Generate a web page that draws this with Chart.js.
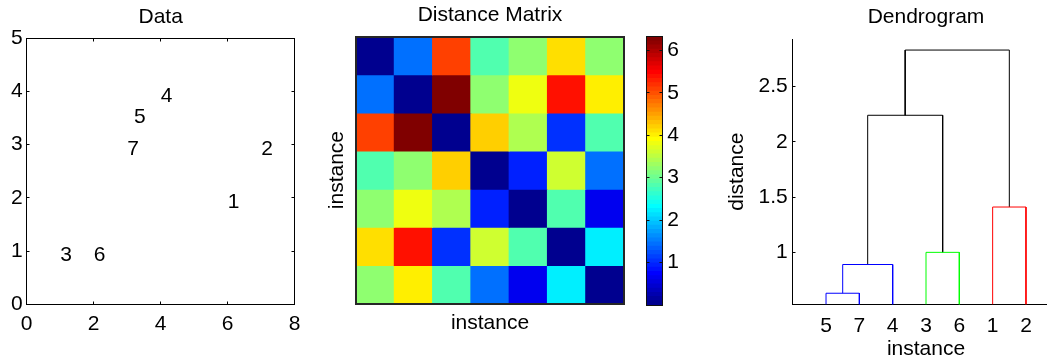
<!DOCTYPE html>
<html>
<head>
<meta charset="utf-8">
<script src="https://cdn.jsdelivr.net/npm/chart.js@4.4.1/dist/chart.umd.min.js"></script>
<style>
  html, body { margin: 0; padding: 0; background: #fff; overflow: hidden; width: 1047px; height: 362px; }
  canvas { position: absolute; top: 0; }
</style>
</head>
<body>
<canvas id="data" width="310" height="362" style="left:0px"></canvas>
<canvas id="matrix" width="330" height="362" style="left:310px"></canvas>
<canvas id="cbar" width="60" height="362" style="left:640px"></canvas>
<canvas id="dendro" width="380" height="362" style="left:700px"></canvas>
<script>
// ---- instances in the plane ----
const instanceIds = ['1', '2', '3', '4', '5', '6', '7'];
const pointX = [6, 7, 1, 4, 3.2, 2, 3];
const pointY = [2, 3, 1, 4, 3.6, 1, 3];

// ---- pairwise Euclidean distances (rows / columns in instance order) ----
const distances = [
  [0.00, 1.41, 5.10, 2.83, 3.22, 4.12, 3.16],
  [1.41, 0.00, 6.32, 3.16, 3.85, 5.39, 4.00],
  [5.10, 6.32, 0.00, 4.24, 3.41, 1.00, 2.83],
  [2.83, 3.16, 4.24, 0.00, 0.89, 3.61, 1.41],
  [3.22, 3.85, 3.41, 0.89, 0.00, 2.86, 0.63],
  [4.12, 5.39, 1.00, 3.61, 2.86, 0.00, 2.24],
  [3.16, 4.00, 2.83, 1.41, 0.63, 2.24, 0.00]
];
const colorbarTicks = [1, 2, 3, 4, 5, 6];

// ---- single-linkage tree: leaves are 1..7, merged clusters are numbered 8..13 ----
const linkPairs = [[5, 7], [8, 4], [3, 6], [1, 2], [9, 10], [11, 12]];
const linkHeights = [0.63, 0.89, 1.00, 1.41, 2.24, 2.83];
const linkColors = ['#0000ff', '#0000ff', '#00ff00', '#ff0000', '#000000', '#000000'];
const leafOrder = [5, 7, 4, 3, 6, 1, 2];
const dendroTicks = [1, 1.5, 2, 2.5];
const dendroRange = [0.53, 2.93];

const FONT = "'Liberation Sans', Arial, Helvetica, sans-serif";
Chart.defaults.font.family = FONT;
Chart.defaults.font.size = 21;
Chart.defaults.color = '#000';

// MATLAB-style 64-entry jet colormap
function jet64(i) {
  const u = k => (k <= 16 ? k / 16 : (k <= 31 ? 1 : (48 - k) / 16));
  const r = i >= 25 ? u(i - 24) : 0;
  const g = (i >= 9 && i <= 55) ? u(i - 8) : 0;
  const b = i <= 39 ? u(i + 8) : 0;
  return `rgb(${Math.round(r * 255)},${Math.round(g * 255)},${Math.round(b * 255)})`;
}
const dMax = Math.max(...distances.flat());
const colorFor = d => jet64(Math.min(64, Math.floor(d / dMax * 64) + 1));

// axes box and inward tick marks
const halfPx = v => Math.round(v - 0.5) + 0.5;
const frame = {
  id: 'frame',
  afterDatasetsDraw(chart, args, o) {
    const { ctx, chartArea: a } = chart;
    ctx.save();
    ctx.strokeStyle = o.color || '#000';
    ctx.lineWidth = o.width || 1;
    const odd = (o.width || 1) % 2 === 1;
    const px = v => (odd ? halfPx(v) : Math.round(v));
    const L = px(a.left), R = px(a.right), T = px(a.top), B = px(a.bottom);
    if (o.box) ctx.strokeRect(L, T, R - L, B - T);
    (o.marks || []).forEach(m => {
      const s = chart.scales[m.scale];
      s.ticks.forEach(t => {
        const p = halfPx(s.getPixelForValue(t.value));
        ctx.beginPath();
        if (s.isHorizontal()) {
          if (m.sides.includes('bottom')) { ctx.moveTo(p, B); ctx.lineTo(p, B - m.len); }
          if (m.sides.includes('top')) { ctx.moveTo(p, T); ctx.lineTo(p, T + m.len); }
        } else {
          if (m.sides.includes('left')) { ctx.moveTo(L, p); ctx.lineTo(L + m.len, p); }
          if (m.sides.includes('right')) { ctx.moveTo(R, p); ctx.lineTo(R - m.len, p); }
        }
        ctx.stroke();
      });
    });
    ctx.restore();
  }
};

// instance numbers written at their coordinates
const pointLabels = {
  id: 'pointLabels',
  afterDatasetsDraw(chart) {
    const { ctx } = chart;
    const meta = chart.getDatasetMeta(0);
    ctx.save();
    ctx.font = `21px ${FONT}`;
    ctx.fillStyle = '#000';
    ctx.textAlign = 'left';
    ctx.textBaseline = 'alphabetic';
    meta.data.forEach((el, i) => ctx.fillText(instanceIds[i], el.x, el.y + 10));
    ctx.restore();
  }
};

const plainGrid = { display: false, drawTicks: false };
const noBorder = { display: false };
const titleOpts = (text, top, bottom) => ({
  display: true, text, fullSize: false, color: '#000',
  font: { size: 21, weight: 'normal' }, padding: { top, bottom }
});
const common = { responsive: false, animation: false, events: [] };

// ---- Data ----
new Chart(document.getElementById('data'), {
  type: 'scatter',
  data: {
    datasets: [{
      data: pointX.map((x, i) => ({ x, y: pointY[i] })),
      pointRadius: 0, pointHoverRadius: 0
    }]
  },
  options: {
    ...common,
    layout: { padding: { left: 0, right: 15.3, top: 0, bottom: 0 } },
    plugins: {
      legend: { display: false }, tooltip: { enabled: false },
      title: titleOpts('Data', 5.1, 8.0),
      frame: {
        color: '#000', width: 1, box: true,
        marks: [{ scale: 'x', sides: ['top', 'bottom'], len: 3 }, { scale: 'y', sides: ['left', 'right'], len: 3 }]
      }
    },
    scales: {
      x: {
        type: 'linear', min: 0, max: 8,
        ticks: { stepSize: 2, padding: 7.1, maxRotation: 0 },
        grid: plainGrid, border: noBorder,
        afterFit: s => { s.height = 57.7; }
      },
      y: {
        type: 'linear', min: 0, max: 5,
        ticks: { stepSize: 1, padding: 4 },
        grid: plainGrid, border: noBorder,
        afterFit: s => { s.width = 26.7; }
      }
    }
  },
  plugins: [frame, pointLabels]
});

// ---- Distance Matrix ----
new Chart(document.getElementById('matrix'), {
  type: 'bar',
  data: {
    labels: instanceIds,
    datasets: distances.map((row, r) => ({
      data: row.map(() => [r, r + 1]),
      backgroundColor: row.map(colorFor),
      borderWidth: 0, barPercentage: 1, categoryPercentage: 1,
      grouped: false, inflateAmount: 0.5
    }))
  },
  options: {
    ...common,
    layout: { padding: { left: 0, right: 16, top: 0, bottom: 0 } },
    plugins: {
      legend: { display: false }, tooltip: { enabled: false },
      title: titleOpts('Distance Matrix', 3.1, 8.4),
      frame: { color: '#262626', width: 2, box: true }
    },
    scales: {
      x: {
        ticks: { display: false }, grid: plainGrid, border: noBorder,
        title: { display: true, text: 'instance', color: '#000', font: { size: 21 }, padding: { top: 0, bottom: 26.4 } },
        afterFit: s => { s.height = 58.5; }
      },
      y: {
        type: 'linear', min: 0, max: 7, reverse: true,
        ticks: { display: false }, grid: plainGrid, border: noBorder,
        title: { display: true, text: 'instance', color: '#000', font: { size: 21 }, padding: { top: 14.2, bottom: 0 } },
        afterFit: s => { s.width = 46; }
      }
    }
  },
  plugins: [frame]
});

// ---- colour scale ----
const bandSize = dMax / 64;
new Chart(document.getElementById('cbar'), {
  type: 'bar',
  data: {
    labels: [''],
    datasets: Array.from({ length: 64 }, (_, i) => ({
      data: [bandSize], backgroundColor: jet64(i + 1),
      borderWidth: 0, barPercentage: 1, categoryPercentage: 1, inflateAmount: 0.5
    }))
  },
  options: {
    ...common,
    layout: { padding: { left: 6, right: 0, top: 36.7, bottom: 57 } },
    plugins: {
      legend: { display: false }, tooltip: { enabled: false },
      frame: { color: '#111', width: 1, box: true, marks: [{ scale: 'y', sides: ['left', 'right'], len: 3 }] }
    },
    scales: {
      x: { stacked: true, display: false },
      y: {
        stacked: true, min: 0, max: dMax, position: 'right',
        afterBuildTicks: s => { s.ticks = colorbarTicks.map(v => ({ value: v })); },
        ticks: { padding: 5, callback: v => String(v) }, grid: plainGrid, border: noBorder,
        afterFit: s => { s.width = 37.7; }
      }
    }
  },
  plugins: [frame]
});

// ---- Dendrogram ----
const clusterPos = c => {
  if (c <= leafOrder.length) return { x: leafOrder.indexOf(c) + 1, h: 0 };
  const k = c - leafOrder.length - 1;
  const [a, b] = linkPairs[k].map(clusterPos);
  return { x: (a.x + b.x) / 2, h: linkHeights[k] };
};
const linkSets = linkPairs.map((pair, k) => {
  const [a, b] = pair.map(clusterPos);
  const h = linkHeights[k];
  return {
    data: [{ x: a.x, y: a.h }, { x: a.x, y: h }, { x: b.x, y: h }, { x: b.x, y: b.h }],
    showLine: true, borderColor: linkColors[k], borderWidth: 1,
    pointRadius: 0, pointHoverRadius: 0, tension: 0
  };
});
new Chart(document.getElementById('dendro'), {
  type: 'scatter',
  data: { datasets: linkSets },
  options: {
    ...common,
    layout: { padding: { left: 0, right: 20.7, top: 0, bottom: 0 } },
    plugins: {
      legend: { display: false }, tooltip: { enabled: false },
      title: titleOpts('Dendrogram', 5.1, 8.7),
      frame: { color: '#000', width: 1, box: false, marks: [{ scale: 'y', sides: ['left'], len: 3 }] }
    },
    scales: {
      x: {
        type: 'linear', min: 0, max: leafOrder.length + 1,
        afterBuildTicks: s => { s.ticks = leafOrder.map((_, i) => ({ value: i + 1 })); },
        ticks: { padding: 9.1, autoSkip: false, maxRotation: 0, callback: (v, i) => String(leafOrder[i]) },
        grid: plainGrid, border: { display: true, color: '#000', width: 1 },
        title: { display: true, text: 'instance', color: '#000', font: { size: 21 }, padding: { top: 0, bottom: 0 } },
        afterFit: s => { s.height = 57.7; }
      },
      y: {
        type: 'linear', min: dendroRange[0], max: dendroRange[1],
        afterBuildTicks: s => { s.ticks = dendroTicks.map(v => ({ value: v })); },
        ticks: { padding: 5, callback: v => String(v) },
        grid: plainGrid, border: { display: true, color: '#000', width: 1 },
        title: { display: true, text: 'distance', color: '#000', font: { size: 21 }, padding: { top: 24.2, bottom: 0 } },
        afterFit: s => { s.width = 92.7; }
      }
    }
  },
  plugins: [frame]
});
</script>
</body>
</html>
